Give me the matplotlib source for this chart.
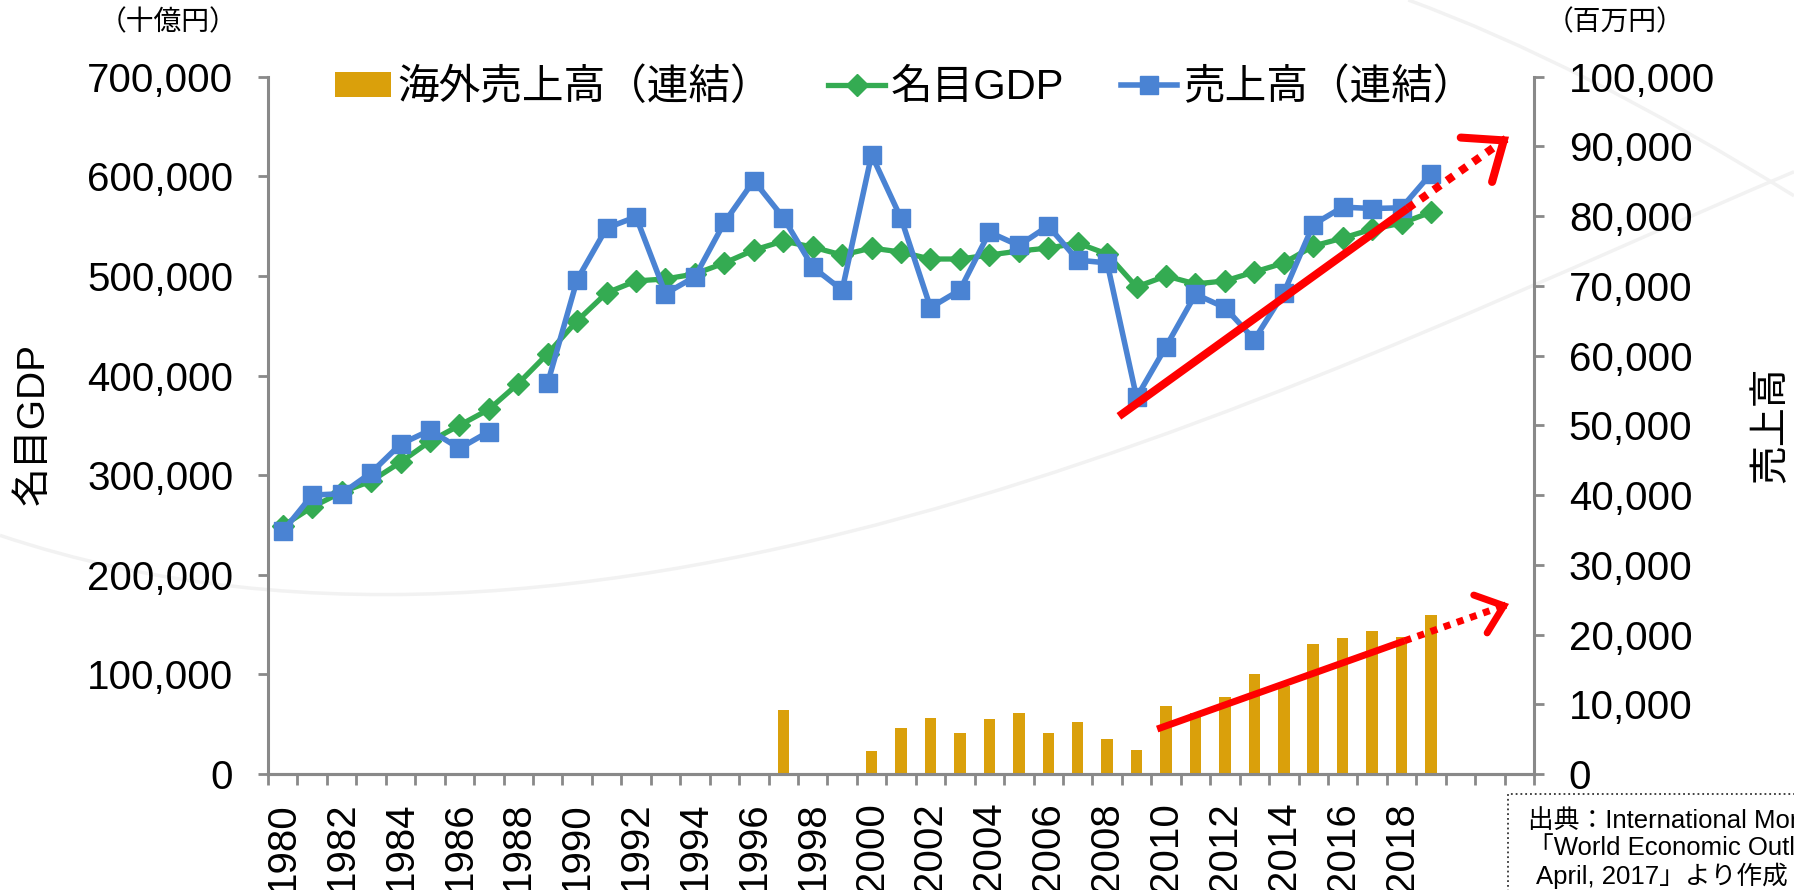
import numpy as np
import matplotlib.pyplot as plt
from matplotlib.patches import Rectangle, PathPatch
from matplotlib.path import Path
from matplotlib.ticker import FuncFormatter

plt.rcParams['font.family'] = ['Liberation Sans', 'Noto Sans CJK JP']

# categories: 1980-2022, data stops at 2019
years = list(range(1980, 2023))

# nominal GDP (billion yen), left axis
gdp = [249000, 268000, 283000, 294000, 313000, 334000, 350000, 366000, 392000, 422000,
       455000, 483000, 495000, 497000, 502000, 513000, 526000, 535000, 529000, 521000,
       528000, 524000, 517000, 517000, 521000, 525000, 528000, 533000, 522000, 489000,
       500000, 492000, 495000, 504000, 513000, 530000, 538000, 547000, 553000, 564000]

# consolidated sales (million yen), right axis; 1988 missing
sales = [34800, 40000, 40200, 43200, 47300, 49300, 46700, 49100, None, 56100,
         70900, 78300, 79900, 68900, 71300, 79100, 85100, 79800, 72700, 69400,
         88800, 79700, 66900, 69400, 77700, 75800, 78600, 73700, 73300, 54000,
         61300, 68800, 66900, 62300, 69000, 78800, 81300, 81100, 81200, 86100]

# overseas sales (million yen), right axis
overseas = [None] * 17 + [9250, None, None,
            3250, 6550, 8000, 5850, 7900, 8700, 5950, 7450, 5000, 3400,
            9750, 8800, 11000, 14300, 12600, 18600, 19450, 20500, 19600, 22800]

# trend arrows: (year, value) for start, end of solid part, arrow tip
trend_sales_x = [2008.4, 2018.2, 2021.65]
trend_sales_y = [51300, 81100, 91400]
trend_over_x = [2009.7, 2018.1, 2021.65]
trend_over_y = [6450, 19100, 24400]

GOLD = '#DAA00B'
GREEN = '#34AB52'
BLUE = '#4A83D3'
RED = '#FF0000'
GRAY = '#898989'


def pad(vals, n):
    arr = np.array([np.nan if v is None else v for v in vals], dtype=float)
    return np.concatenate([arr, np.full(n - len(arr), np.nan)])


n = len(years)
x = np.arange(n)
gdp_a = pad(gdp, n)
sales_a = pad(sales, n)
over_a = pad(overseas, n)

fig = plt.figure(figsize=(17.94, 8.90), dpi=100)

# faint background swooshes, kept under everything else
swoosh = Path([(0.0, 0.3985), (0.344, 0.166), (0.758, 0.601), (1.0, 0.807)],
              [Path.MOVETO, Path.CURVE4, Path.CURVE4, Path.CURVE4])
fig.patches.append(PathPatch(swoosh, transform=fig.transFigure, fill=False,
                             edgecolor='#F2F2F2', lw=2.5, zorder=-5))
swoosh2 = Path([(0.785, 1.0), (0.88, 0.93), (1.0, 0.78)],
               [Path.MOVETO, Path.CURVE3, Path.CURVE3])
fig.patches.append(PathPatch(swoosh2, transform=fig.transFigure, fill=False,
                             edgecolor='#F2F2F2', lw=2.5, zorder=-5))

ax1 = fig.add_axes([0.1494, 0.1303, 0.7057, 0.7835])
ax1.patch.set_visible(False)
ax2 = ax1.twinx()

ax2.bar(x, np.nan_to_num(over_a), width=0.39, color=GOLD, zorder=1,
        label='海外売上高（連結）')
l_gdp, = ax1.plot(x, gdp_a, color=GREEN, lw=3.8, marker='D', ms=11,
                  label='名目GDP')
l_sales, = ax2.plot(x, sales_a, color=BLUE, lw=4, marker='s', ms=13,
                    label='売上高（連結）', zorder=3)


def trend_arrow(ax, xs, ys, lw, scale):
    xs = [v - years[0] for v in xs]
    ax.plot(xs[:2], ys[:2], color=RED, lw=lw, solid_capstyle='butt', zorder=5)
    ax.plot(xs[1:], ys[1:], color=RED, lw=lw, linestyle=(0, (1, 1)),
            dash_capstyle='butt', zorder=5)
    back = (xs[2] - 0.04 * (xs[2] - xs[1]), ys[2] - 0.04 * (ys[2] - ys[1]))
    ax.annotate('', xy=(xs[2], ys[2]), xytext=back, zorder=6,
                arrowprops=dict(arrowstyle='->,head_length=1.05,head_width=0.85',
                                color=RED, lw=lw, mutation_scale=scale,
                                shrinkA=0, shrinkB=0, joinstyle='miter',
                                capstyle='round'))


trend_arrow(ax2, trend_sales_x, trend_sales_y, 5.8, 23)
trend_arrow(ax2, trend_over_x, trend_over_y, 5.0, 17)

ax1.set_xlim(-0.5, n - 0.5)
ax1.set_ylim(0, 700000)
ax2.set_ylim(0, 100000)
ax1.set_yticks(np.arange(0, 700001, 100000))
ax2.set_yticks(np.arange(0, 100001, 10000))
fmt = FuncFormatter(lambda v, p: f'{int(v):,}')
ax1.yaxis.set_major_formatter(fmt)
ax2.yaxis.set_major_formatter(fmt)

# ticks between categories, labels on every other year
ax1.set_xticks(np.arange(-0.5, n, 1))
ax1.set_xticklabels([])
lab_pos = [i for i, y in enumerate(years) if y % 2 == 0 and y <= 2018]
ax1.set_xticks(lab_pos, minor=True)
ax1.set_xticklabels([str(years[i]) for i in lab_pos], minor=True,
                    rotation=90, fontsize=29)
ax1.tick_params(axis='x', which='major', direction='out', length=8, width=2,
                color=GRAY)
ax1.tick_params(axis='x', which='minor', length=0, pad=20)
ax1.tick_params(axis='y', direction='out', length=7, width=2, color=GRAY,
                labelsize=29, pad=18)
ax2.tick_params(axis='y', direction='out', length=7, width=2, color=GRAY,
                labelsize=29, pad=18)

for ax in (ax1, ax2):
    ax.spines['top'].set_visible(False)
    for s in ('left', 'right', 'bottom'):
        ax.spines[s].set_color(GRAY)
        ax.spines[s].set_linewidth(2.2)
ax1.spines['right'].set_visible(False)
ax2.spines['left'].set_visible(False)

handles = [ax2.patches[0], l_gdp, l_sales]
labels = ['海外売上高（連結）', '名目GDP', '売上高（連結）']
ax2.legend(handles, labels, loc='center', bbox_to_anchor=(0.503, 0.984),
           ncol=3, frameon=False, fontsize=30, handlelength=1.35,
           handleheight=0.55, handletextpad=0.15, columnspacing=1.35,
           borderaxespad=0)

fig.text(0.019, 0.524, '名目GDP', rotation=90, fontsize=28,
         ha='center', va='center')
fig.text(0.9876, 0.5225, '売上高', rotation=90, fontsize=28,
         ha='center', va='center')
fig.text(0.0935, 0.974, '（十億円）', fontsize=20, ha='center', va='center')
fig.text(0.9, 0.974, '（百万円）', fontsize=20, ha='center', va='center')

# source note box, running off the lower right corner
fig.patches.append(Rectangle((0.8406, -0.2), 0.3, 0.308,
                             transform=fig.transFigure, fill=False,
                             edgecolor='#333333', lw=1.3, linestyle=':'))
fig.text(0.852, 0.079, '出典：International Monetary Fund', fontsize=18.5,
         va='center', ha='left')
fig.text(0.852, 0.047, '「World Economic Outlook Database,', fontsize=18.5,
         va='center', ha='left')
fig.text(0.856, 0.016, 'April, 2017」より作成', fontsize=18.5,
         va='center', ha='left')

fig.savefig('out.png', dpi=100)
